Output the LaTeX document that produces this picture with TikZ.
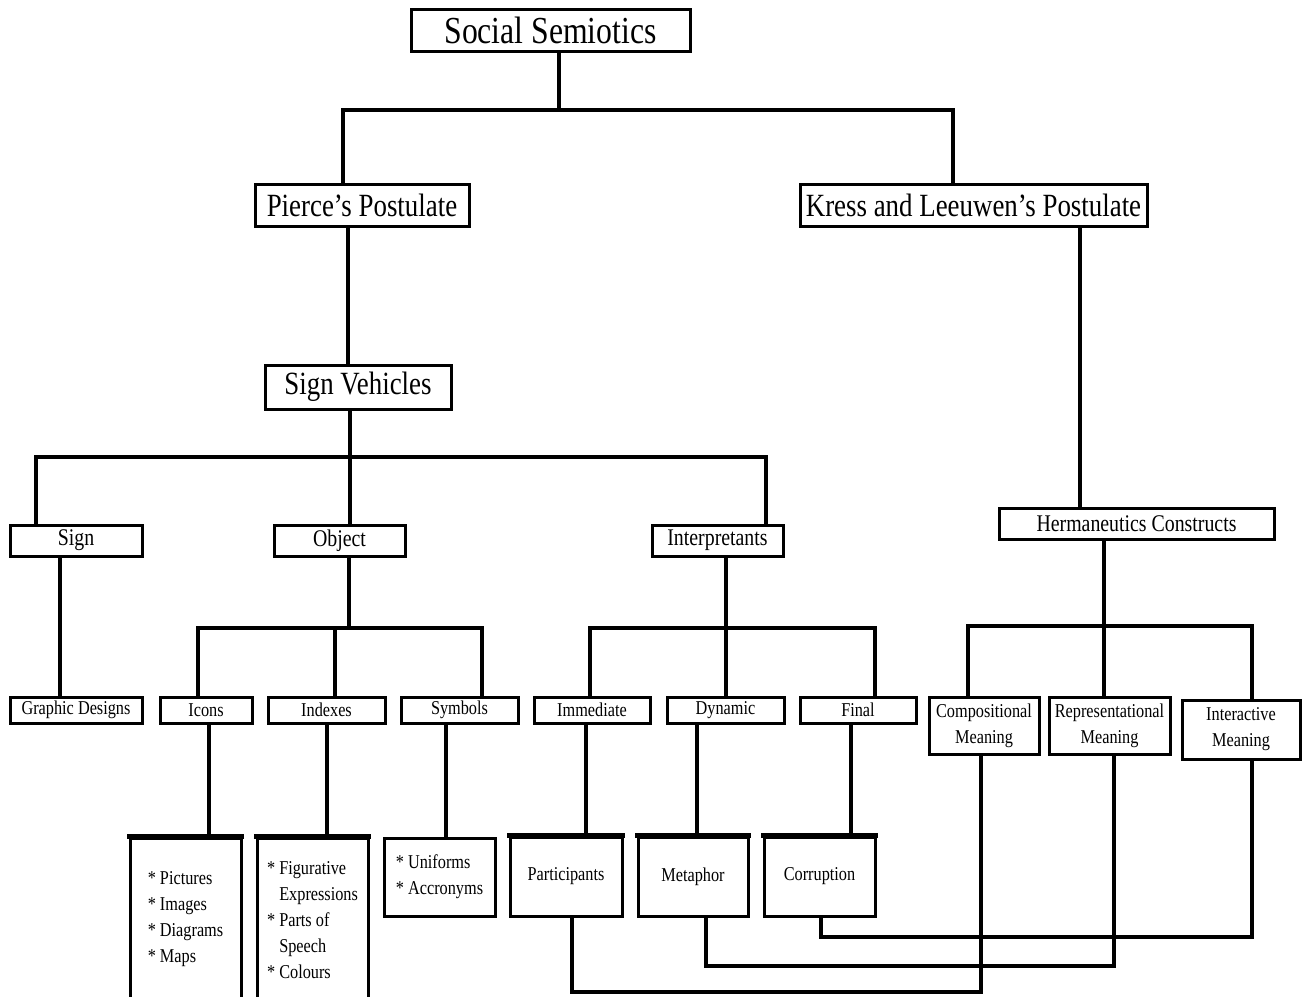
\documentclass[tikz,border=0pt]{standalone}
\usepackage{fontspec}
\setmainfont{Liberation Serif}[FakeStretch=0.83]
\begin{document}
\begin{tikzpicture}[x=1pt,y=-1pt,
  bx/.style={draw, line width=3pt, inner sep=0pt, fill=white, align=center},
  fbig/.style={font=\fontsize{38.2}{42}\selectfont},
  fmid/.style={font=\fontsize{32.4}{36}\selectfont},
  fmed/.style={font=\fontsize{23.9}{27}\selectfont},
  fsm/.style={font=\fontsize{19.6}{26}\selectfont},
  conn/.style={line width=4pt},
  topedge/.style={line width=5pt}]
\path[use as bounding box] (0,0) rectangle (1305,996);
\clip (0,0) rectangle (1305,996);
% boxes
\node[bx,fbig,minimum width=279,minimum height=42] (social) at (550.5,30) {Social Semiotics};
\node[bx,fmid,minimum width=214,minimum height=42] (pierce) at (362,205) {Pierce’s Postulate};
\node[bx,fmid,minimum width=347,minimum height=42] (kress) at (973.5,205) {Kress and Leeuwen’s Postulate};
\node[bx,fmid,minimum width=186,minimum height=44] (sv) at (358,387) {Sign Vehicles};
\node[bx,fmed,minimum width=132,minimum height=31] (sign) at (76,540.5) {Sign};
\node[bx,fmed,minimum width=131,minimum height=31] (object) at (339.5,540.5) {Object};
\node[bx,fmed,minimum width=131,minimum height=31] (interp) at (717.5,540.5) {Interpretants};
\node[bx,fmed,minimum width=275,minimum height=31] (herm) at (1136.5,523.5) {Hermaneutics Constructs};
\node[bx,fsm,minimum width=132,minimum height=26] (graphic) at (76,710) {Graphic Designs};
\node[bx,fsm,minimum width=92,minimum height=26] (icons) at (206,710) {Icons};
\node[bx,fsm,minimum width=117,minimum height=26] (indexes) at (326.5,710) {Indexes};
\node[bx,fsm,minimum width=117,minimum height=26] (symbols) at (459.5,710) {Symbols};
\node[bx,fsm,minimum width=116,minimum height=26] (immediate) at (592,710) {Immediate};
\node[bx,fsm,minimum width=117,minimum height=26] (dynamic) at (725.5,710) {Dynamic};
\node[bx,fsm,minimum width=116,minimum height=26] (final) at (858,710) {Final};
\node[bx,fsm,minimum width=110,minimum height=57] (comp) at (984,725.5) {Compositional\\Meaning};
\node[bx,fsm,minimum width=121,minimum height=57] (repr) at (1109.5,725.5) {Representational\\Meaning};
\node[bx,fsm,minimum width=118,minimum height=59] (inter) at (1241,729.5) {Interactive\\Meaning};
\node[bx,fsm,align=left,minimum width=111,minimum height=162] (pictures) at (185.5,919) {* Pictures\\* Images\\* Diagrams\\* Maps};
\node[bx,fsm,align=left,minimum width=111,minimum height=164] (figur) at (312.5,920) {* Figurative\\\phantom{* }Expressions\\* Parts of\\\phantom{* }Speech\\* Colours};
\node[bx,fsm,align=left,minimum width=111,minimum height=78] (unif) at (439.5,877) {* Uniforms\\* Accronyms};
\node[bx,fsm,minimum width=112,minimum height=79] (partic) at (566,876.5) {Participants};
\node[bx,fsm,minimum width=110,minimum height=79] (metaph) at (693,876.5) {Metaphor};
\node[bx,fsm,minimum width=111,minimum height=79] (corrupt) at (819.5,876.5) {Corruption};
\foreach \n in {pictures,figur,partic,metaph,corrupt}
  \draw[topedge] ([xshift=-1.5pt]\n.north west) -- ([xshift=1.5pt]\n.north east);
% junctions
\coordinate (j1) at (559,110);
\coordinate (j2) at (350,457);
\coordinate (j3) at (349,628);
\coordinate (j4) at (726,628);
\coordinate (j5) at (1104,626);
\coordinate (b1) at (981,992);
\coordinate (b2) at (1114,966);
\coordinate (b3) at (1252,937);
% connectors
\draw[conn] (social.south -| j1) -- (j1);
\draw[conn] ([xshift=-19pt]pierce.north) |- (j1) -| ([xshift=-20.5pt]kress.north);
\draw[conn] ([xshift=-14pt]pierce.south) -- ([xshift=-14pt]pierce.south |- sv.north);
\draw[conn] (sv.south -| j2) -- (j2);
\draw[conn] ([xshift=-40pt]sign.north) |- (j2) -| ([xshift=48.5pt]interp.north);
\draw[conn] (j2) -- (object.north -| j2);
\draw[conn] ([xshift=-16pt]sign.south) -- ([xshift=-16pt]sign.south |- graphic.north);
\draw[conn] (object.south -| j3) -- (j3);
\draw[conn] ([xshift=-8pt]icons.north) |- (j3) -| ([xshift=22.5pt]symbols.north);
\draw[conn] ([xshift=8.5pt]indexes.north) -- ([xshift=8.5pt]indexes.north |- j3);
\draw[conn] (interp.south -| j4) -- (j4);
\draw[conn] ([xshift=-2pt]immediate.north) |- (j4) -| ([xshift=17pt]final.north);
\draw[conn] (j4) -- (dynamic.north -| j4);
\draw[conn] ([xshift=106.5pt]kress.south) -- ([xshift=106.5pt]kress.south |- herm.north);
\draw[conn] (herm.south -| j5) -- (j5);
\draw[conn] ([xshift=-16pt]comp.north) |- (j5) -| ([xshift=11pt]inter.north);
\draw[conn] (j5) -- (repr.north -| j5);
\draw[conn] ([xshift=3pt]icons.south) -- ([xshift=3pt]icons.south |- pictures.north);
\draw[conn] (indexes.south) -- (indexes.south |- figur.north);
\draw[conn] ([xshift=-13.5pt]symbols.south) -- ([xshift=-13.5pt]symbols.south |- unif.north);
\draw[conn] ([xshift=-6pt]immediate.south) -- ([xshift=-6pt]immediate.south |- partic.north);
\draw[conn] ([xshift=-28.5pt]dynamic.south) -- ([xshift=-28.5pt]dynamic.south |- metaph.north);
\draw[conn] ([xshift=-7pt]final.south) -- ([xshift=-7pt]final.south |- corrupt.north);
\draw[conn] ([xshift=6pt]partic.south) |- (b1) -- (comp.south -| b1);
\draw[conn] ([xshift=13pt]metaph.south) |- (b2) -- (repr.south -| b2);
\draw[conn] ([xshift=1.5pt]corrupt.south) |- (b3) -- (inter.south -| b3);
\end{tikzpicture}
\end{document}
